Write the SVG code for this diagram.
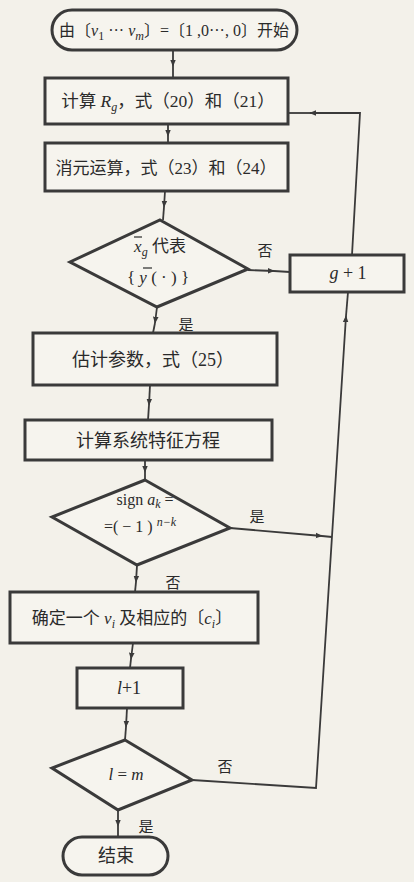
<svg xmlns="http://www.w3.org/2000/svg" width="414" height="882" viewBox="0 0 414 882">
<defs>
<marker id="ah" viewBox="0 0 10 10" refX="9" refY="5" markerWidth="7" markerHeight="7" markerUnits="userSpaceOnUse" orient="auto">
<path d="M0,1 L10,5 L0,9 z" fill="#3a3a3a"/>
</marker>
<style>
.nd{fill:#f6f4ee;stroke:#3a3a3a;stroke-width:3}
.cn{fill:none;stroke:#3a3a3a;stroke-width:1.8}
.t{font-family:"Liberation Serif","Noto Sans CJK SC",serif;font-size:18px;fill:#2a2a2a;text-anchor:middle}
.lb{font-family:"Liberation Serif","Noto Sans CJK SC",serif;font-size:15px;fill:#2a2a2a;text-anchor:middle}
.i{font-style:italic}
.s{font-size:12px}
</style>
</defs>
<rect width="414" height="882" fill="#f3f1ea"/>

<g id="connectors">
<path class="cn" d="M173,50 L173,66" marker-end="url(#ah)"/><path class="cn" d="M173,66 L173,78"/>
<path class="cn" d="M168,124 L168,136" marker-end="url(#ah)"/><path class="cn" d="M168,136 L168,143"/>
<path class="cn" d="M165,191 L164,207" marker-end="url(#ah)"/><path class="cn" d="M164,207 L163,220"/>
<path class="cn" d="M248,270 L274,271" marker-end="url(#ah)"/><path class="cn" d="M274,271 L290,272"/>
<path class="cn" d="M352,255 L360,113 L310,113" marker-end="url(#ah)"/><path class="cn" d="M310,113 L288,113"/>
<path class="cn" d="M157,307 L155,323" marker-end="url(#ah)"/><path class="cn" d="M155,323 L153,333"/>
<path class="cn" d="M150,385 L149,405" marker-end="url(#ah)"/><path class="cn" d="M149,405 L148,420"/>
<path class="cn" d="M145,460 L145,472" marker-end="url(#ah)"/><path class="cn" d="M145,472 L145,480"/>
<path class="cn" d="M230,528 L322,536" marker-end="url(#ah)"/><path class="cn" d="M322,536 L332,537"/>
<path class="cn" d="M137,565 L136,582" marker-end="url(#ah)"/><path class="cn" d="M136,582 L135,592"/>
<path class="cn" d="M133,643 L131,659" marker-end="url(#ah)"/><path class="cn" d="M131,659 L130,668"/>
<path class="cn" d="M127,708 L126,727" marker-end="url(#ah)"/><path class="cn" d="M126,727 L125,740"/>
<path class="cn" d="M192,780 L316,788 L346,316" marker-end="url(#ah)"/><path class="cn" d="M346,316 L348,292"/>
<path class="cn" d="M118,810 L118,826" marker-end="url(#ah)"/><path class="cn" d="M118,826 L118,837"/>
<text class="lb" x="265" y="256">否</text>
<text class="lb" x="186" y="330">是</text>
<text class="lb" x="257" y="522">是</text>
<text class="lb" x="173" y="588">否</text>
<text class="lb" x="225" y="772">否</text>
<text class="lb" x="146" y="832">是</text>
</g>

<g id="start">
<rect class="nd" x="52" y="10" width="245" height="40" rx="20"/>
<text class="t" x="174" y="36" style="font-size:16px">由〔<tspan class="i">ν</tspan><tspan class="s" dy="4">1</tspan><tspan dy="-4"> ··· </tspan><tspan class="i">ν</tspan><tspan class="s i" dy="4">m</tspan><tspan dy="-4">〕=〔1 ,0···, 0〕开始</tspan></text>
</g>

<g id="calcR">
<rect class="nd" x="45" y="78" width="243" height="46"/>
<text class="t" x="168" y="107" style="font-size:17.5px">计算 <tspan class="i">R</tspan><tspan class="s i" dy="4">g</tspan><tspan dy="-4">，式（20）和（21）</tspan></text>
</g>

<g id="elim">
<rect class="nd" x="45" y="143" width="243" height="48"/>
<text class="t" x="166" y="174" style="font-size:17px">消元运算，式（23）和（24）</text>
</g>

<g id="dec1">
<polygon class="nd" points="160,220 248,269 157,307 70,262"/>
<text class="t" x="160" y="252" style="font-size:17px"><tspan class="i">x</tspan><tspan class="s i" dy="4">g</tspan><tspan dy="-4"> 代表</tspan></text>
<line x1="134" y1="237" x2="142" y2="237" stroke="#2a2a2a" stroke-width="1.2"/>
<text class="t" x="158" y="283" style="font-size:17px">{ <tspan class="i">y</tspan> ( · ) }</text>
<line x1="143" y1="268" x2="152" y2="268" stroke="#2a2a2a" stroke-width="1.2"/>
</g>

<g id="gplus">
<rect class="nd" x="290" y="255" width="114" height="37"/>
<text class="t" x="348" y="279"><tspan class="i">g</tspan> + 1</text>
</g>

<g id="estimate">
<rect class="nd" x="33" y="333" width="244" height="52"/>
<text class="t" x="153" y="366">估计参数，式（25）</text>
</g>

<g id="charEq">
<rect class="nd" x="25" y="420" width="247" height="40"/>
<text class="t" x="148" y="447">计算系统特征方程</text>
</g>

<g id="dec2">
<polygon class="nd" points="145,480 230,528 137,565 52,517"/>
<text class="t" x="145" y="505" style="font-size:16px">sign <tspan class="i">a</tspan><tspan class="s i" dy="3">k</tspan><tspan dy="-3"> =</tspan></text>
<text class="t" x="140" y="532" style="font-size:16px">=( − 1 ) <tspan class="s i" dy="-6">n−k</tspan></text>
</g>

<g id="determine">
<rect class="nd" x="10" y="592" width="248" height="51"/>
<text class="t" x="132" y="624" style="font-size:17px">确定一个 <tspan class="i">ν</tspan><tspan class="s i" dy="4">i</tspan><tspan dy="-4"> 及相应的〔</tspan><tspan class="i">c</tspan><tspan class="s i" dy="4">i</tspan><tspan dy="-4">〕</tspan></text>
</g>

<g id="lplus">
<rect class="nd" x="77" y="668" width="106" height="40"/>
<text class="t" x="129" y="694"><tspan class="i">l</tspan>+1</text>
</g>

<g id="dec3">
<polygon class="nd" points="125,740 192,780 118,810 52,768"/>
<text class="t" x="126" y="780" style="font-size:17px"><tspan class="i">l</tspan> = <tspan class="i">m</tspan></text>
</g>

<g id="end">
<rect class="nd" x="63" y="837" width="105" height="38" rx="19"/>
<text class="t" x="116" y="862">结束</text>
</g>
</svg>
